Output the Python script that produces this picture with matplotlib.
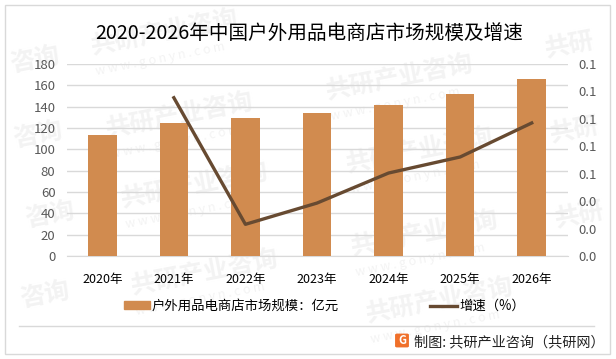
import matplotlib.pyplot as plt
import matplotlib.patches as patches

plt.rcParams['font.family'] = ['Noto Sans CJK SC', 'DejaVu Sans']

years = ['2020年', '2021年', '2022年', '2023年', '2024年', '2025年', '2026年']
market = [113, 125, 129, 134, 142, 152, 166]
growth_years = [1, 2, 3, 4, 5, 6]
growth = [0.1154, 0.0231, 0.0386, 0.0605, 0.0722, 0.097]
left_ticks = [0, 20, 40, 60, 80, 100, 120, 140, 160, 180]
right_ticks = [0, 0.02, 0.04, 0.06, 0.08, 0.10, 0.12, 0.14]

W, H = 616, 359
BAR = '#D18B4F'
LINE = '#674A31'
GRID = '#D9D9D9'
TICK = '#595959'
MARK = '#F3F3F3'


def px(x, y):
    return x / W, 1 - y / H


fig = plt.figure(figsize=(W / 100, H / 100), dpi=100, facecolor='white')

# pale watermark repeated over the page, behind the axes
for wx, wy in [(165, 32), (180, 115), (195, 185), (205, 272), (400, 77), (420, 150), (425, 233), (440, 300)]:
    fig.text(*px(wx, wy), '共研产业咨询', fontsize=18, fontweight='bold', color=MARK,
             rotation=11, ha='center', va='center', zorder=-1)
    fig.text(*px(wx - 5, wy + 27), 'w w w . g o n y n . c o m', fontsize=9, color=MARK,
             rotation=11, ha='center', va='center', zorder=-1)
for wx, wy in [(570, 45), (575, 130), (580, 215), (35, 60), (38, 135), (50, 215), (45, 295)]:
    fig.text(*px(wx, wy), '共研' if wx > 300 else '咨询', fontsize=18, fontweight='bold', color=MARK,
             rotation=11, ha='center', va='center', zorder=-1)

# outer frame and footer rule
fig.add_artist(patches.Rectangle(px(4.5, 353.5), 605 / W, 349 / H, fill=False, ec=GRID, lw=1))
fig.add_artist(plt.Line2D([19 / W, 594 / W], [1 - 325.5 / H] * 2, color=GRID, lw=1))

ax = fig.add_axes([66.5 / W, 1 - 256 / H, 501 / W, 192 / H])
ax.patch.set_alpha(0)
ax.bar(range(7), market, width=0.4, color=BAR, zorder=3)
ax.set_xlim(-0.5, 6.5)
ax.set_ylim(0, 180)
ax.set_xticks(range(7))
ax.set_xticklabels(years, fontsize=9, color='black')
ax.set_yticks(left_ticks)
ax.tick_params(axis='x', length=0, pad=12)
ax.tick_params(axis='y', length=0, pad=8, labelsize=9.5, labelcolor=TICK)
ax.grid(axis='y', color=GRID, lw=1, zorder=0)
ax.set_axisbelow(True)
for s in ax.spines.values():
    s.set_visible(False)
ax.spines['bottom'].set_visible(True)
ax.spines['bottom'].set_color(GRID)

ax2 = ax.twinx()
ax2.plot(growth_years, growth, color=LINE, lw=2.4, zorder=5)
ax2.set_ylim(0, 0.14)
ax2.set_yticks(right_ticks)
ax2.set_yticklabels(['%.1f' % t for t in right_ticks])
ax2.tick_params(axis='y', length=0, pad=8, labelsize=9.5, labelcolor=TICK)
for s in ax2.spines.values():
    s.set_visible(False)

fig.text(*px(309, 33), '2020-2026年中国户外用品电商店市场规模及增速', fontsize=14.1, color='black',
         ha='center', va='center')

# legend placed by hand so the key and text sit where they do in the original
fig.add_artist(patches.Rectangle(px(124, 309), 26 / W, 8 / H, color=BAR))
fig.text(*px(152, 305.5), '户外用品电商店市场规模：亿元', fontsize=9.6, va='center')
fig.add_artist(plt.Line2D([429.5 / W, 457 / W], [1 - 305.5 / H] * 2, color=LINE, lw=2.4))
fig.text(*px(459, 305.5), '增速（%）', fontsize=9.6, va='center')

# footer logo and source
fig.add_artist(patches.FancyBboxPatch(px(397, 346), 10 / W, 11 / H, boxstyle='round,pad=0.002',
                                      color='#F0702A'))
fig.text(*px(402, 340), 'G', fontsize=8, fontweight='bold', color='white', ha='center', va='center')
fig.text(*px(414, 342), '制图: 共研产业咨询（共研网）', fontsize=10.2, va='center', color='#222222')

fig.savefig('out.png', dpi=100)
